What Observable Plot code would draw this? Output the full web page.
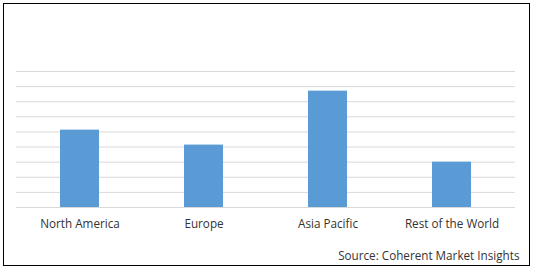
<!DOCTYPE html>
<html>
<head>
<meta charset="utf-8">
<script src="https://cdn.jsdelivr.net/npm/d3@7"></script>
<script src="https://cdn.jsdelivr.net/npm/@observablehq/plot@0.6"></script>
<style>
  html, body { margin: 0; padding: 0; background: #fff; }
  #wrap { position: relative; width: 534px; height: 270px; }
  #border { position: absolute; left: 3px; top: 3px; width: 525px; height: 261px; border: 1.5px solid #000; pointer-events: none; }
</style>
</head>
<body>
<div id="wrap"><div id="border"></div></div>
<script>
const regions = ["North America", "Europe", "Asia Pacific", "Rest of the World"];
const values = [5.12, 4.13, 7.7, 3.0];
const gridTicks = [0, 1, 2, 3, 4, 5, 6, 7, 8, 9];
const source = "Source: Coherent Market Insights";

const data = regions.map((r, i) => ({region: r, value: values[i]}));

const chart = Plot.plot({
  width: 534,
  height: 270,
  marginLeft: 16,
  marginRight: 19,
  marginTop: 71,
  marginBottom: 63,
  style: {fontFamily: "'Open Sans', sans-serif", fontSize: "11.7px", color: "#333", background: "transparent"},
  x: {domain: regions, paddingInner: 0.687, paddingOuter: 0.3435, label: null},
  y: {domain: [0, 9], axis: null},
  marks: [
    Plot.ruleY(gridTicks, {stroke: "#d9d9d9", strokeWidth: 1}),
    Plot.barY(data, {x: "region", y: "value", fill: "#5b9bd5"}),
    Plot.axisX({tickSize: 0, tickPadding: 12.5, fontSize: 11.7, fill: "#333", label: null}),
    Plot.text([source], {frameAnchor: "bottom-right", dx: 4, dy: 52, text: d => d, fontSize: 11.7, fill: "#333", textAnchor: "end"})
  ]
});
document.getElementById("wrap").prepend(chart);
</script>
</body>
</html>
